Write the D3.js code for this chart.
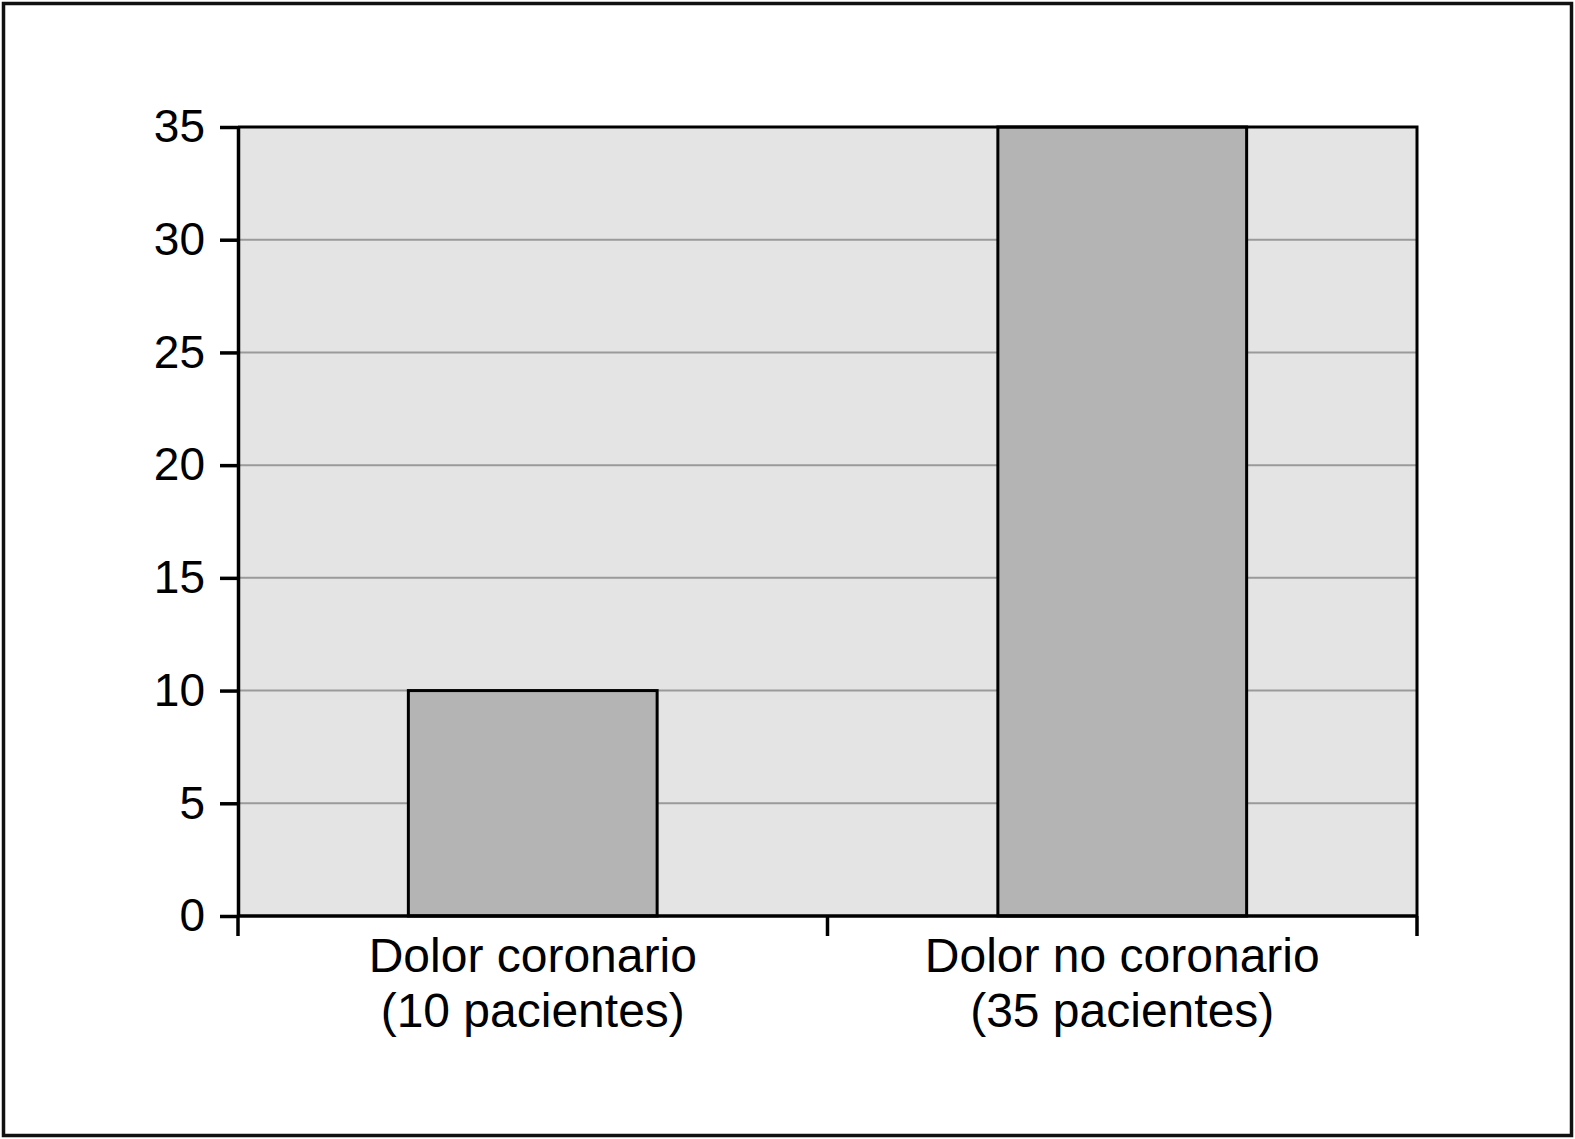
<!DOCTYPE html>
<html>
<head>
<meta charset="utf-8">
<script src="https://cdn.jsdelivr.net/npm/d3@7"></script>
<style>
  html, body { margin: 0; padding: 0; background: #fff; }
  svg { display: block; }
  text { font-family: "Liberation Sans", Arial, Helvetica, sans-serif; fill: #000; }
</style>
</head>
<body>
<div id="chart"></div>
<script>
// data
var categories = ['Dolor coronario', 'Dolor no coronario'];
var subLabels = ['(10 pacientes)', '(35 pacientes)'];
var values = [10, 35];
var yTicks = [0, 5, 10, 15, 20, 25, 30, 35];

var W = 1575, H = 1139;
var m = { left: 238, right: 158, top: 127, bottom: 223 };

var svg = d3.select('#chart').append('svg')
  .attr('width', W)
  .attr('height', H);

// outer frame
svg.append('rect')
  .attr('x', 3.5).attr('y', 3.5)
  .attr('width', W - 7)
  .attr('height', H - 7)
  .attr('fill', 'none')
  .attr('stroke', '#111')
  .attr('stroke-width', 3.5);

var x = d3.scaleBand()
  .domain(categories)
  .range([m.left, W - m.right])
  .paddingInner(0.578)
  .paddingOuter(0.289);

var y = d3.scaleLinear()
  .domain([0, 35])
  .range([H - m.bottom, m.top]);

// plot background
svg.append('rect')
  .attr('x', m.left).attr('y', y(35))
  .attr('width', W - m.right - m.left)
  .attr('height', y(0) - y(35))
  .attr('fill', '#e4e4e4');

// grid lines
svg.append('g').selectAll('line')
  .data(yTicks.filter(function(d) { return d > 0 && d < 35; }))
  .enter().append('line')
  .attr('x1', m.left).attr('x2', W - m.right)
  .attr('y1', function(d) { return y(d); })
  .attr('y2', function(d) { return y(d); })
  .attr('stroke', '#9a9a9a')
  .attr('stroke-width', 2);

// bars
svg.append('g').selectAll('rect')
  .data(values)
  .enter().append('rect')
  .attr('x', function(d, i) { return x(categories[i]); })
  .attr('y', function(d) { return y(d); })
  .attr('width', x.bandwidth())
  .attr('height', function(d) { return y(0) - y(d); })
  .attr('fill', '#b4b4b4')
  .attr('stroke', '#000')
  .attr('stroke-width', 3);

// top and right border of the plot
svg.append('path')
  .attr('d', 'M' + m.left + ',' + y(35) + 'H' + (W - m.right) + 'V' + y(0))
  .attr('fill', 'none')
  .attr('stroke', '#000')
  .attr('stroke-width', 3);

// y axis
var yAxis = d3.axisLeft(y)
  .tickValues(yTicks)
  .tickSize(18)
  .tickSizeOuter(0)
  .tickPadding(15);
svg.append('g')
  .attr('transform', 'translate(' + m.left + ',0)')
  .call(yAxis)
  .call(function(g) {
    g.select('.domain').attr('stroke-width', 3.5);
    g.selectAll('.tick line').attr('stroke-width', 3.5);
    g.selectAll('.tick text')
      .attr('font-size', 46)
      .attr('font-family', '"Liberation Sans", Arial, sans-serif')
      .attr('fill', '#000');
  });

// x axis: baseline and ticks at category boundaries
var gx = svg.append('g');
gx.append('line')
  .attr('x1', m.left).attr('x2', W - m.right)
  .attr('y1', y(0)).attr('y2', y(0))
  .attr('stroke', '#000').attr('stroke-width', 3.5);
var bounds = d3.range(categories.length + 1).map(function(i) {
  return x.range()[0] + i * x.step();
});
gx.selectAll('line.b').data(bounds).enter().append('line')
  .attr('class', 'b')
  .attr('x1', function(d) { return d; }).attr('x2', function(d) { return d; })
  .attr('y1', y(0)).attr('y2', y(0) + 20)
  .attr('stroke', '#000').attr('stroke-width', 3.5);

var labels = gx.selectAll('text').data(categories).enter().append('text')
  .attr('text-anchor', 'middle')
  .attr('font-size', 48)
  .attr('x', function(d) { return x(d) + x.bandwidth() / 2; })
  .attr('y', y(0) + 56);
labels.append('tspan').text(function(d) { return d; });
labels.append('tspan')
  .attr('x', function(d) { return x(d) + x.bandwidth() / 2; })
  .attr('dy', 55)
  .text(function(d, i) { return subLabels[i]; });
</script>
</body>
</html>
